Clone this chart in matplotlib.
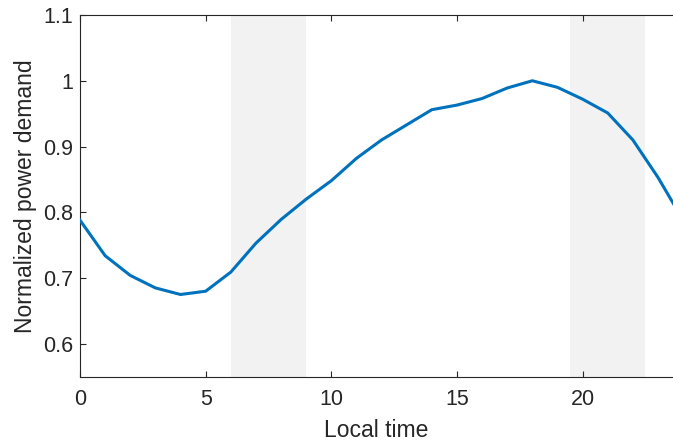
import matplotlib
matplotlib.use("Agg")
import matplotlib.pyplot as plt

plt.rcParams['font.family'] = ['Liberation Sans', 'DejaVu Sans']

hours = [0, 1, 2, 3, 4, 5, 6, 7, 8, 9, 10, 11, 12, 13, 14, 15, 16, 17, 18, 19, 20, 21, 22, 23, 24]
demand = [0.788, 0.734, 0.704, 0.685, 0.675, 0.680, 0.709, 0.753, 0.789, 0.820, 0.848,
          0.882, 0.910, 0.933, 0.956, 0.963, 0.973, 0.989, 1.000, 0.990, 0.972, 0.951,
          0.910, 0.853, 0.788]
shaded_spans = [(6, 9), (19.5, 22.5)]
xticks = [0, 5, 10, 15, 20]
yticks = [0.6, 0.7, 0.8, 0.9, 1.0, 1.1]
ytick_labels = ['0.6', '0.7', '0.8', '0.9', '1', '1.1']

fig = plt.figure(figsize=(6.73, 4.40), dpi=100)
ax = fig.add_axes([80/673, 1 - 376.7/440, 1 - 80/673, (376.7 - 15)/440])

dark = '#262626'
for a, b in shaded_spans:
    ax.axvspan(a, b, color='#f2f2f2', lw=0, zorder=0)
ax.plot(hours, demand, color='#0072BD', lw=2.2, zorder=3)

ax.set_xlim(0, 593/25.13)
ax.set_ylim(0.55, 1.1)
ax.set_xticks(xticks)
ax.set_yticks(yticks)
ax.set_yticklabels(ytick_labels)
ax.tick_params(direction='in', length=4.5, width=0.8, colors=dark, labelsize=15.5,
               top=True, right=False)
ax.tick_params(axis='y', pad=5)
ax.tick_params(axis='x', pad=9)
for side in ['left', 'bottom', 'top']:
    ax.spines[side].set_color(dark)
    ax.spines[side].set_linewidth(0.8)
ax.spines['right'].set_visible(False)

ax.set_xlabel('Local time', fontsize=16.5, color=dark, labelpad=6)
ax.set_ylabel('Normalized power demand', fontsize=16.5, color=dark, labelpad=4)

fig.savefig('out.png', dpi=100)
